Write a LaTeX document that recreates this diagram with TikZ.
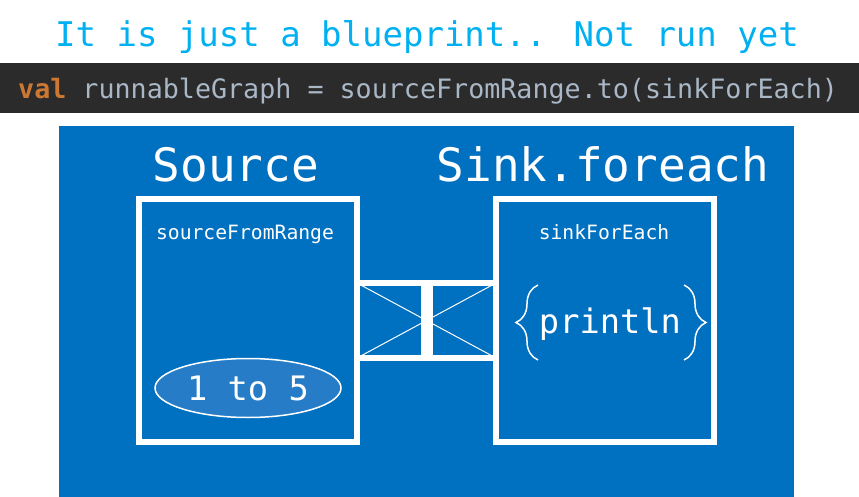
\documentclass[tikz,border=0pt]{standalone}
\usepackage{fontspec}
\usepackage{tikz}
\usetikzlibrary{shapes.geometric,calc,decorations.pathreplacing}
\newfontfamily\codefont{DejaVu Sans Mono}
\definecolor{titlecyan}{RGB}{0,176,240}
\definecolor{codebg}{RGB}{43,43,43}
\definecolor{codeorange}{RGB}{204,120,50}
\definecolor{codegrey}{RGB}{169,183,198}
\definecolor{panelblue}{RGB}{0,112,192}
\definecolor{rangeblue}{RGB}{38,124,198}
\tikzset{
  stagebox/.style={draw=white, line width=6pt, minimum width=218pt, minimum height=243pt, inner sep=0pt, outer sep=0pt},
  txt/.style={text=white, inner sep=0pt, anchor=base},
}
\newcommand{\fs}[1]{\fontsize{#1}{#1}\selectfont}

\begin{document}
\begin{tikzpicture}[x=1pt, y=-1pt]
    \useasboundingbox (0,0) rectangle (859,497);
    %, Header ---
    \node[txt, text=titlecyan, font=\codefont\fs{34}] (title) at (427,47) {It is just a blueprint.. Not run yet};
    \fill[codebg] (0,63) rectangle (859,113);
    \node[txt, anchor=base west, text=codegrey, font=\codefont\fs{26.7}] (code) at (18,99)
        {\textcolor{codeorange}{\bfseries val} runnableGraph = sourceFromRange.to(sinkForEach)};

    %, Panel ---
    \fill[panelblue] (59,126) rectangle (794,497);
    \node[txt, font=\codefont\fs{46}] (srctitle) at (236,182) {Source};
    \node[txt, font=\codefont\fs{46}] (snktitle) at (603,182) {Sink.foreach};

    %, Source and sink ---
    \node[stagebox] (src) at (248,320.5) {};
    \node[stagebox] (snk) at (605,320.5) {};
    \node[txt, font=\codefont\fs{19.7}] (srcname) at (245,239) {sourceFromRange};
    \node[txt, font=\codefont\fs{19.7}] (snkname) at (604,240) {sinkForEach};
    \node[ellipse, draw=white, line width=1.5pt, fill=rangeblue, minimum width=186pt, minimum height=59pt,
          text=white, font=\codefont\fs{33.7}] (range) at (248,388) {1 to 5};
    \node[txt, font=\codefont\fs{33.7}] (prn) at (610,333) {println};
    \draw[white, line width=1.5pt, decoration={brace, amplitude=22pt}, decorate]
        (538,360) -- (538,285);
    \draw[white, line width=1.5pt, decoration={brace, amplitude=22pt}, decorate]
        (684,285) -- (684,360);

    %, Connection ---
    \coordinate (mid) at ($(src.east)!0.5!(snk.west)$);
    \draw[white, line width=1pt] ([yshift=37.5pt]src.east) -- ([yshift=-37.5pt]snk.west);
    \draw[white, line width=1pt] ([yshift=-37.5pt]src.east) -- ([yshift=37.5pt]snk.west);
    \draw[white, line width=6pt] ([yshift=37.5pt]src.east) rectangle ([yshift=-37.5pt]snk.west);
    \draw[white, line width=12pt] ([yshift=37.5pt]mid) -- ([yshift=-37.5pt]mid);
\end{tikzpicture}
\end{document}
